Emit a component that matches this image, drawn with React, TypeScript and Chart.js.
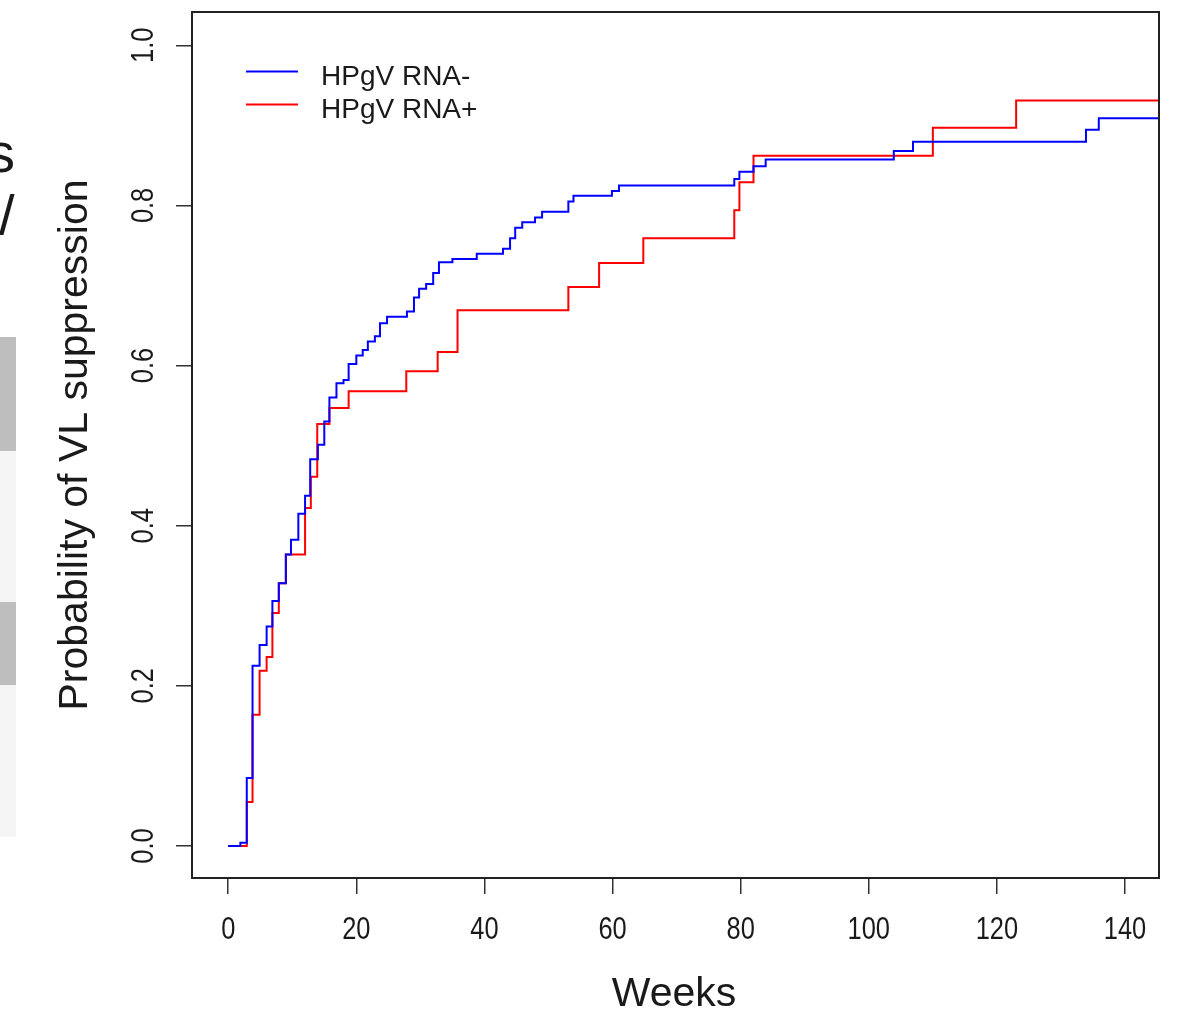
import React, { useEffect, useRef } from "react";
import { Chart, registerables } from "chart.js";

Chart.register(...registerables);

// ---- data (weeks at which the estimate steps, and the new probability) ----
const negWeeks = [0, 1.9, 2.9, 3.8, 4.9, 6.0, 6.9, 7.9, 9.0, 9.8, 10.95, 12.0, 12.8, 14.0, 15.0, 15.8, 16.9, 18.0, 18.8, 20.0, 21.0, 21.8, 22.9, 23.7, 24.8, 27.9, 29.0, 29.8, 30.9, 32.0, 32.9, 35.0, 38.8, 42.9, 44.0, 44.8, 45.9, 47.9, 49.0, 53.1, 53.9, 59.9, 61.0, 79.0, 79.8, 82.0, 83.9, 103.9, 106.9, 133.9, 135.9, 147];
const negValues = [0, 0.004, 0.085, 0.225, 0.251, 0.274, 0.306, 0.328, 0.364, 0.3825, 0.415, 0.4375, 0.483, 0.501, 0.530, 0.560, 0.578, 0.582, 0.602, 0.6125, 0.6196, 0.630, 0.6367, 0.653, 0.661, 0.6675, 0.685, 0.696, 0.702, 0.7155, 0.729, 0.733, 0.7396, 0.746, 0.759, 0.772, 0.779, 0.785, 0.792, 0.805, 0.812, 0.818, 0.825, 0.833, 0.842, 0.849, 0.8575, 0.868, 0.8795, 0.8946, 0.909, 0.909];

const posWeeks = [0, 2.9, 3.8, 4.9, 6.0, 6.9, 7.9, 9.0, 12.0, 12.9, 13.9, 15.8, 18.8, 27.8, 32.7, 35.8, 53.1, 57.9, 64.8, 79.0, 79.8, 82.0, 110.0, 123.0, 147];
const posValues = [0, 0.055, 0.164, 0.219, 0.236, 0.291, 0.328, 0.364, 0.422, 0.461, 0.527, 0.547, 0.568, 0.593, 0.617, 0.669, 0.698, 0.728, 0.759, 0.794, 0.829, 0.862, 0.897, 0.931, 0.931];

const seriesLabels = ["HPgV RNA-", "HPgV RNA+"];
const seriesColors = ["#0000ff", "#ff0000"];

const xTickValues = [0, 20, 40, 60, 80, 100, 120, 140];
const xTickLabels = ["0", "20", "40", "60", "80", "100", "120", "140"];
const yTickValues = [0, 0.2, 0.4, 0.6, 0.8, 1.0];
const yTickLabels = ["0.0", "0.2", "0.4", "0.6", "0.8", "1.0"];

const xTitle = "Weeks";
const yTitle = "Probability of VL suppression";

const FONT = '"Liberation Sans", Arial, sans-serif';
const INK = "#1a1a1a";

const decorPlugin = {
  id: "decor",
  afterDraw(chart: any) {
    const { ctx, chartArea } = chart;
    const xs = chart.scales.x;
    const ys = chart.scales.y;
    ctx.save();
    // box
    ctx.strokeStyle = "#222";
    ctx.lineWidth = 2;
    ctx.strokeRect(chartArea.left, chartArea.top, chartArea.right - chartArea.left, chartArea.bottom - chartArea.top);

    ctx.fillStyle = INK;
    // x tick labels (condensed)
    ctx.font = `31px ${FONT}`;
    ctx.textAlign = "center";
    ctx.textBaseline = "alphabetic";
    xTickValues.forEach((v, i) => {
      const px = xs.getPixelForValue(v);
      ctx.save();
      ctx.translate(px, 939);
      ctx.scale(0.82, 1);
      ctx.fillText(xTickLabels[i], 0, 0);
      ctx.restore();
    });
    // y tick labels rotated
    yTickValues.forEach((v, i) => {
      const py = ys.getPixelForValue(v);
      ctx.save();
      ctx.translate(153, py);
      ctx.rotate(-Math.PI / 2);
      ctx.scale(0.82, 1);
      ctx.fillText(yTickLabels[i], 0, 0);
      ctx.restore();
    });
    // axis titles
    ctx.font = `41px ${FONT}`;
    ctx.fillText(xTitle, 674, 1006);
    ctx.save();
    ctx.translate(87, 445);
    ctx.rotate(-Math.PI / 2);
    ctx.fillText(yTitle, 0, 0);
    ctx.restore();

    // legend
    ctx.font = `28px ${FONT}`;
    ctx.textAlign = "left";
    const rows = [
      { ly: 71.5, ty: 85 },
      { ly: 104.5, ty: 118 },
    ];
    rows.forEach((r, i) => {
      ctx.strokeStyle = seriesColors[i];
      ctx.lineWidth = 2;
      ctx.beginPath();
      ctx.moveTo(246, r.ly);
      ctx.lineTo(298, r.ly);
      ctx.stroke();
      ctx.fillStyle = INK;
      ctx.fillText(seriesLabels[i], 321, r.ty);
    });
    ctx.restore();
  },
};

export default function App() {
  const ref = useRef<HTMLCanvasElement | null>(null);
  useEffect(() => {
    if (!ref.current) return;
    const mk = (ws: number[], vs: number[]) => ws.map((w, i) => ({ x: w, y: vs[i] }));
    const axisCommon = {
      type: "linear" as const,
      ticks: { display: false },
      grid: { drawOnChartArea: false, drawTicks: true, tickLength: 16, color: "#333", lineWidth: 1.5 },
      border: { display: false },
    };
    const chart = new Chart(ref.current, {
      type: "line",
      data: {
        datasets: [
          {
            label: seriesLabels[0],
            data: mk(negWeeks, negValues),
            borderColor: seriesColors[0],
            borderWidth: 2,
            pointRadius: 0,
            stepped: "before",
            fill: false,
          },
          {
            label: seriesLabels[1],
            data: mk(posWeeks, posValues),
            borderColor: seriesColors[1],
            borderWidth: 2,
            pointRadius: 0,
            stepped: "before",
            fill: false,
          },
        ],
      },
      options: {
        animation: false,
        responsive: false,
        events: [],
        layout: { padding: { left: 0, top: 12, right: 20, bottom: 0 } },
        plugins: { legend: { display: false }, tooltip: { enabled: false } },
        scales: {
          x: {
            ...axisCommon,
            min: -5.65,
            max: 145.3,
            afterBuildTicks: (s: any) => {
              s.ticks = xTickValues.map((v) => ({ value: v }));
            },
            afterFit: (s: any) => {
              s.height = 131;
            },
          },
          y: {
            ...axisCommon,
            min: -0.04,
            max: 1.0416,
            afterBuildTicks: (s: any) => {
              s.ticks = yTickValues.map((v) => ({ value: v }));
            },
            afterFit: (s: any) => {
              s.width = 192;
            },
          },
        },
      },
      plugins: [decorPlugin],
    });
    return () => chart.destroy();
  }, []);

  const box = (top: number, height: number, color: string) => (
    <div style={{ position: "absolute", left: 0, top, width: 16, height, background: color }} />
  );

  return (
    <div style={{ position: "absolute", left: 0, top: 0, width: 1179, height: 1009, background: "#fff", overflow: "hidden" }}>
      {box(337, 114, "#bebebe")}
      {box(451, 151, "#f5f5f5")}
      {box(602, 83, "#bebebe")}
      {box(685, 152, "#f5f5f5")}
      <div style={{ position: "absolute", left: -13, top: 125, fontFamily: FONT, fontSize: 56, lineHeight: "56px", color: INK }}>s</div>
      <div style={{ position: "absolute", left: -1, top: 187, fontFamily: FONT, fontSize: 56, lineHeight: "56px", color: INK }}>/</div>
      <canvas ref={ref} width={1179} height={1009} style={{ position: "absolute", left: 0, top: 0, width: 1179, height: 1009 }} />
    </div>
  );
}
